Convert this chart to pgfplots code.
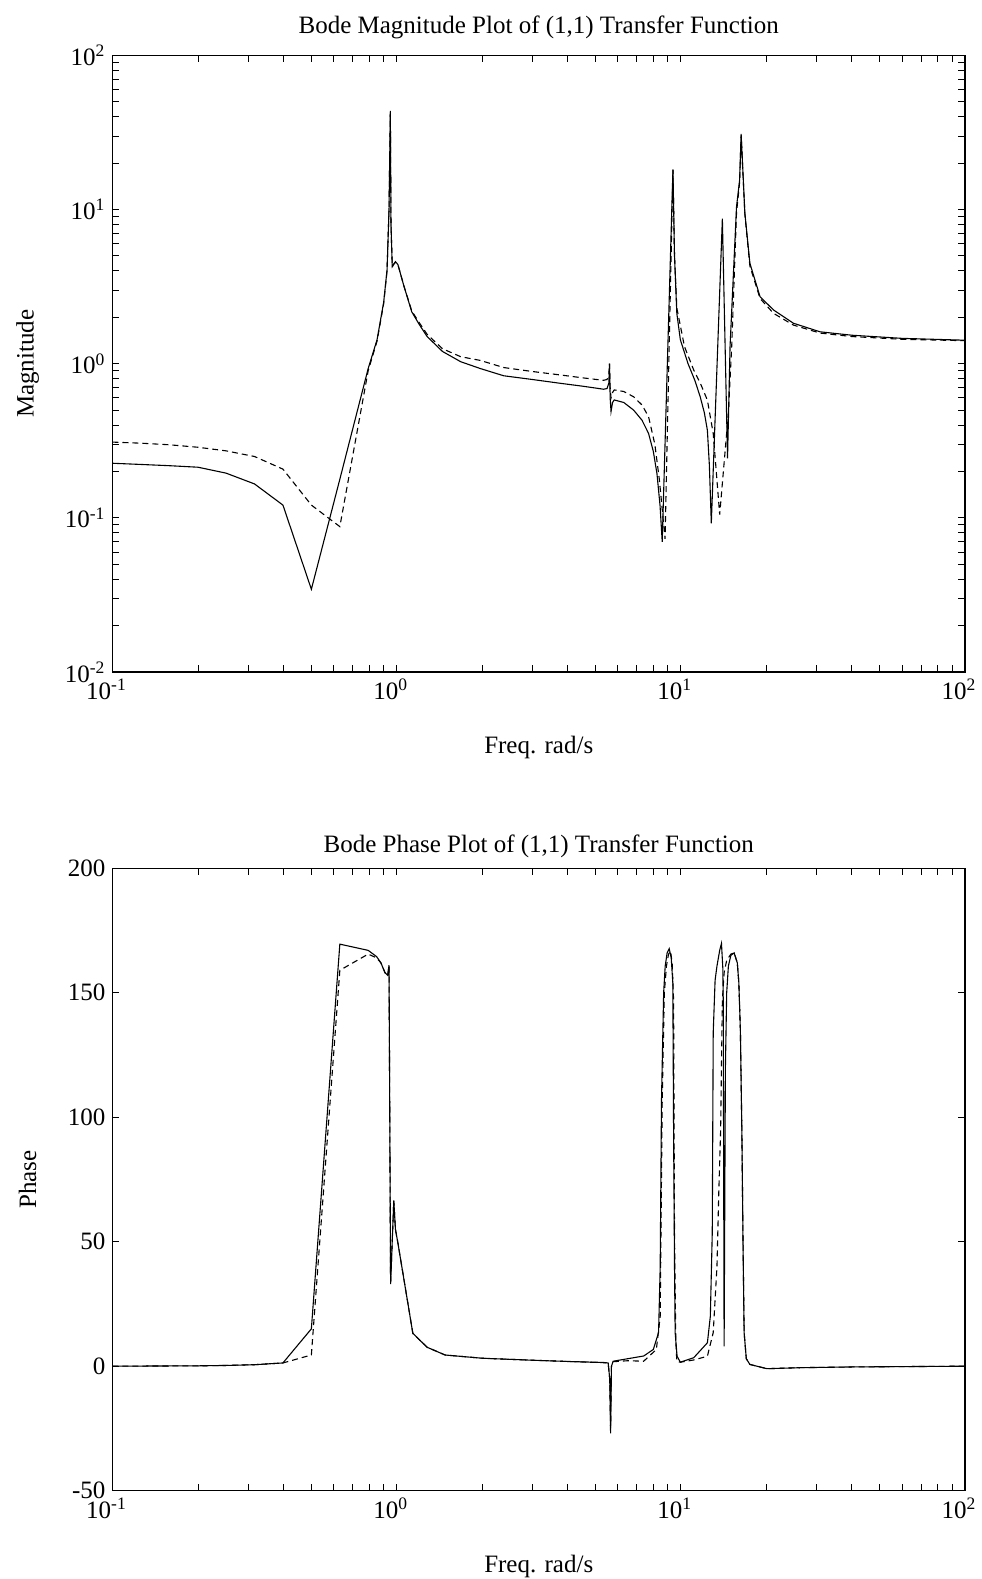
\documentclass[border=0pt]{standalone}
\usepackage{fontspec}
\setmainfont{Liberation Serif}
\usepackage{pgfplots}
\pgfplotsset{compat=1.18}
\newcommand\ff{\fontsize{12.5}{15}\selectfont}
\tikzset{solidc/.style={black, line width=0.55pt},
  dashc/.style={black, line width=0.55pt, dash pattern=on 3pt off 2pt}}
\begin{document}
\begin{tikzpicture}
\begin{axis}[
  scale only axis, width=426.25pt,
  xmode=log, xmin=0.1, xmax=100,
  xtick={0.1,1,10,100},
  xticklabels={10\textsuperscript{-1},10\textsuperscript{0},10\textsuperscript{1},10\textsuperscript{2}},
  minor xtick={0.2,0.3,0.4,0.5,0.6,0.7,0.8,0.9,2,3,4,5,6,7,8,9,20,30,40,50,60,70,80,90},
  tick align=inside, major tick length=3.5pt, minor tick length=3.5pt,
  axis line style={line width=0.6pt},
  every tick/.style={black, line width=0.45pt},
  ticklabel style={font=\ff},
  xticklabel style={xshift=-3pt},
  label style={font=\ff}, title style={font=\ff},
  xlabel={Freq. rad/s},
  xlabel style={at={(axis description cs:0.5,-0.122)}, anchor=center},
  ylabel style={at={(axis description cs:-0.0995,0.5)}, anchor=center},
  at={(56.25pt,453.5pt)}, anchor=south west, height=308.3pt,
  ymode=log, ymin=0.01, ymax=100,
  ytick={0.01,0.1,1,10,100},
  yticklabels={10\textsuperscript{-2},10\textsuperscript{-1},10\textsuperscript{0},10\textsuperscript{1},10\textsuperscript{2}},
  minor ytick={0.02,0.03,0.04,0.05,0.06,0.07,0.08,0.09,0.2,0.3,0.4,0.5,0.6,0.7,0.8,0.9,2,3,4,5,6,7,8,9,20,30,40,50,60,70,80,90},
  title={Bode Magnitude Plot of (1,1) Transfer Function},
  title style={at={(axis description cs:0.5,1.026)}, anchor=center},
  ylabel={Magnitude}]
\addplot[solidc] coordinates {
(0.1,0.226) (0.126,0.222) (0.158,0.218) (0.2,0.213) (0.251,0.195) (0.316,0.166)
(0.398,0.121) (0.501,0.0344) (0.631,0.178) (0.794,0.93) (0.853,1.43) (0.9,2.5)
(0.925,4.06) (0.94,10) (0.95,43.6) (0.955,8) (0.965,4.26) (0.975,4.4) (0.99,4.59)
(1.01,4.4) (1.06,3.2) (1.13,2.17) (1.2,1.8) (1.28,1.5) (1.45,1.2) (1.68,1.03)
(1.97,0.93) (2.38,0.835) (3.0,0.79) (3.77,0.746) (4.5,0.715) (5.35,0.683)
(5.5,0.69) (5.58,0.75) (5.61,1.0) (5.64,0.6) (5.68,0.489) (5.75,0.56) (5.83,0.582)
(6.3,0.56) (6.82,0.50) (7.3,0.43) (7.7,0.353) (8.0,0.27) (8.24,0.194) (8.45,0.12)
(8.6,0.0698) (9.38,18.2) (9.5,5) (9.68,2.12) (9.96,1.43) (10.6,1.0) (11.2,0.78)
(11.7,0.61) (12.1,0.48) (12.4,0.37) (12.6,0.22) (12.8,0.092) (14.0,8.73)
(14.6,0.243) (14.9,1.29) (15.7,10.4) (16.1,15.5) (16.3,30.9) (16.8,9.5) (17.5,4.48)
(19.0,2.72) (21.2,2.23) (24.9,1.83) (30.9,1.61) (40,1.53) (60,1.46) (100,1.42)
};
\addplot[dashc] coordinates {
(0.1,0.31) (0.126,0.305) (0.158,0.298) (0.2,0.287) (0.251,0.272) (0.316,0.25)
(0.398,0.207) (0.501,0.121) (0.631,0.0877) (0.794,0.9) (0.853,1.4) (0.9,2.45)
(0.925,4.0) (0.94,10) (0.95,43) (0.955,8) (0.965,4.26) (0.975,4.4) (0.99,4.55)
(1.01,4.4) (1.06,3.2) (1.13,2.2) (1.2,1.85) (1.28,1.55) (1.45,1.25) (1.68,1.11)
(1.97,1.05) (2.38,0.944) (3.0,0.89) (3.77,0.845) (4.5,0.81) (5.35,0.78)
(5.5,0.79) (5.58,0.85) (5.61,1.0) (5.64,0.7) (5.68,0.6) (5.75,0.65) (5.83,0.676)
(6.3,0.66) (6.82,0.61) (7.3,0.54) (7.7,0.453) (8.1,0.3) (8.4,0.178) (8.8,0.073)
(9.38,18) (9.5,5) (9.68,2.3) (10.3,1.29) (11.1,0.91) (11.7,0.75) (12.4,0.58)
(13.0,0.353) (13.7,0.105) (14.7,0.48) (15.1,1.29) (15.7,9.5) (16.1,15) (16.3,30.5)
(16.8,9.3) (17.5,4.3) (19.0,2.65) (21.2,2.12) (24.9,1.78) (30.9,1.58) (40,1.5)
(60,1.44) (100,1.41)
};
\end{axis}
\begin{axis}[
  scale only axis, width=426.25pt,
  xmode=log, xmin=0.1, xmax=100,
  xtick={0.1,1,10,100},
  xticklabels={10\textsuperscript{-1},10\textsuperscript{0},10\textsuperscript{1},10\textsuperscript{2}},
  minor xtick={0.2,0.3,0.4,0.5,0.6,0.7,0.8,0.9,2,3,4,5,6,7,8,9,20,30,40,50,60,70,80,90},
  tick align=inside, major tick length=3.5pt, minor tick length=3.5pt,
  axis line style={line width=0.6pt},
  every tick/.style={black, line width=0.45pt},
  ticklabel style={font=\ff},
  xticklabel style={xshift=-3pt},
  label style={font=\ff}, title style={font=\ff},
  xlabel={Freq. rad/s},
  xlabel style={at={(axis description cs:0.5,-0.122)}, anchor=center},
  ylabel style={at={(axis description cs:-0.0995,0.5)}, anchor=center},
  at={(56.25pt,44.15pt)}, anchor=south west, height=311.25pt,
  ymin=-50, ymax=200, ytick={-50,0,50,100,150,200},
  yticklabel style={/pgf/number format/assume math mode=true},
  title={Bode Phase Plot of (1,1) Transfer Function},
  title style={at={(axis description cs:0.5,1.0165)}, anchor=center},
  ylabel={Phase}]
\addplot[solidc] coordinates {
(0.1,0) (0.126,0.05) (0.158,0.1) (0.2,0.15) (0.251,0.3) (0.316,0.6) (0.398,1.3)
(0.501,15) (0.631,169.5) (0.794,167) (0.85,164.5) (0.88,162) (0.91,158) (0.93,157)
(0.94,161) (0.952,33) (0.977,66.5) (0.99,55) (1.01,49.5) (1.14,13.2) (1.28,7.6)
(1.48,4.5) (2.0,3.2) (3.0,2.4) (4.0,1.9) (5.35,1.5) (5.55,1.3) (5.62,-5) (5.66,-27)
(5.7,0) (5.78,2.0) (6.5,3.0) (7.4,4.1) (8.0,6.7) (8.35,13.5) (8.46,40) (8.55,107)
(8.7,150) (8.81,160.7) (8.95,166) (9.1,167.7) (9.25,164) (9.37,154) (9.43,93.8)
(9.5,40) (9.55,13.5) (9.7,4) (9.96,1.6) (11.1,3.4)
(12.4,9.4) (12.7,20) (12.9,53.6) (13.0,134) (13.2,155) (13.4,160.7) (13.7,167)
(13.9,169.8) (14.05,160) (14.1,147) (14.2,8) (14.35,120) (14.5,150) (14.7,160.7)
(15.0,165) (15.4,166) (15.8,162) (16.0,154) (16.2,135) (16.4,93.8) (16.55,50)
(16.7,13.5) (17.0,3) (17.5,0.7) (20.1,-1) (26.3,-0.6) (40,-0.3) (100,0)
};
\addplot[dashc] coordinates {
(0.1,0) (0.126,0.05) (0.158,0.1) (0.2,0.15) (0.251,0.3) (0.316,0.6) (0.398,1.3)
(0.501,4.5) (0.631,159) (0.794,165.5) (0.85,164) (0.88,162) (0.91,158) (0.93,157)
(0.94,161) (0.952,33) (0.977,66.5) (0.99,55) (1.01,49.5) (1.14,13.2) (1.28,7.6)
(1.48,4.5) (2.0,3.2) (3.0,2.4) (4.0,1.9) (5.35,1.4) (5.55,1.2) (5.62,-5) (5.66,-25)
(5.7,0) (5.78,1.8) (6.5,2.2) (7.4,2.0) (8.2,6.7) (8.46,20) (8.6,107) (8.75,150)
(8.9,160.7) (9.05,165.5) (9.2,166.7) (9.32,162) (9.43,147) (9.5,53.6) (9.6,10)
(9.68,2) (9.96,1.6) (11.1,2.5) (12.4,4) (13.0,13.5)
(13.4,40) (13.6,70) (13.8,94) (14.0,147) (14.2,158) (14.5,163) (15.0,165.5)
(15.4,166) (15.8,162) (16.0,154) (16.2,135) (16.4,93.8) (16.55,50)
(16.7,13.5) (17.0,3) (17.5,0.7) (20.1,-1) (26.3,-0.6) (40,-0.3) (100,0)
};
\end{axis}
\pgfresetboundingbox
\path[use as bounding box] (0,0) rectangle (490.5pt,789.5pt);
\end{tikzpicture}
\end{document}
